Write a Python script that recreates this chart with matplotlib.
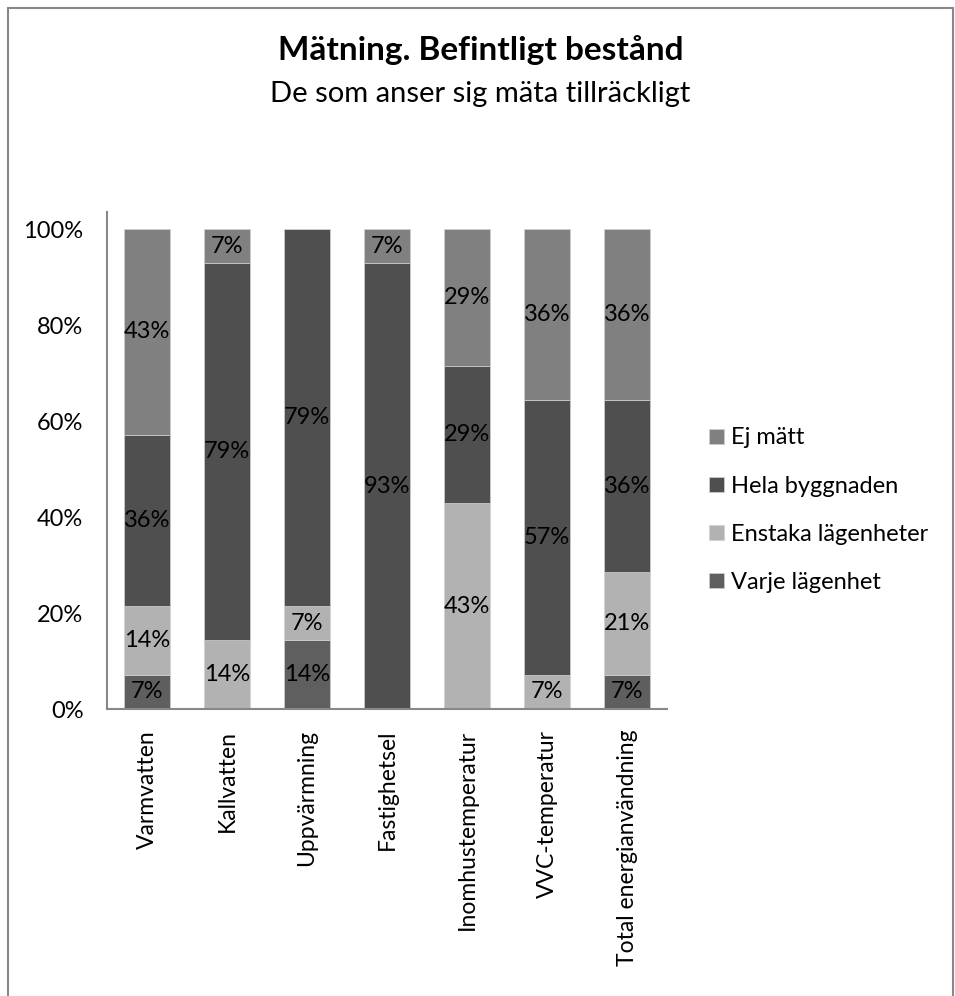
import numpy as np
import matplotlib
matplotlib.use('Agg')
import matplotlib.pyplot as plt
from matplotlib.patches import Rectangle
from matplotlib.ticker import FuncFormatter

plt.rcParams['font.family'] = ['Lato', 'DejaVu Sans']

categories = ['Varmvatten', 'Kallvatten', 'Uppvärmning', 'Fastighetsel',
              'Inomhustemperatur', 'VVC-temperatur', 'Total energianvändning']
series_names = ['Varje lägenhet', 'Enstaka lägenheter', 'Hela byggnaden', 'Ej mätt']
varje = [7.14, 0, 14.29, 0, 0, 0, 7.14]
enstaka = [14.29, 14.29, 7.14, 0, 42.86, 7.14, 21.43]
hela = [35.71, 78.57, 78.57, 92.86, 28.57, 57.14, 35.71]
ej = [42.86, 7.14, 0, 7.14, 28.57, 35.71, 35.71]
colors = ['#5f5f5f', '#b2b2b2', '#4f4f4f', '#808080']

fig = plt.figure(figsize=(9.55, 9.96), dpi=100)
ax = fig.add_axes([107 / 955, 1 - 709 / 996, 560 / 955, 497 / 996])

x = np.arange(len(categories))
bottom = np.zeros(len(categories))
bars = []
for name, vals, col in zip(series_names, [varje, enstaka, hela, ej], colors):
    vals = np.array(vals)
    b = ax.bar(x, vals, 0.575, bottom=bottom, color=col, label=name,
               edgecolor='#d0d0d0', linewidth=0.5)
    for xi, v, bt in zip(x, vals, bottom):
        if v > 0:
            ax.text(xi, bt + v / 2, f'{v:.0f}%', ha='center', va='center',
                    fontsize=17, color='black')
    bars.append(b)
    bottom += vals

ax.set_xlim(-0.5, len(categories) - 0.5)
ax.set_ylim(0, 100 * 497 / 480)
ax.set_yticks([0, 20, 40, 60, 80, 100])
ax.yaxis.set_major_formatter(FuncFormatter(lambda v, p: f'{v:.0f}%'))
ax.set_xticks(x)
ax.set_xticklabels(categories, rotation=90, va='top', ha='center')
ax.tick_params(axis='both', labelsize=17, colors='black', length=0)
ax.tick_params(axis='x', pad=15, labelsize=16.5)
ax.tick_params(axis='y', pad=17)
for s in ['top', 'right']:
    ax.spines[s].set_visible(False)
for s in ['left', 'bottom']:
    ax.spines[s].set_color('#888888')
    ax.spines[s].set_linewidth(1.5)

handles = bars[::-1]
fig.legend(handles, series_names[::-1], loc='upper left',
           bbox_to_anchor=(700 / 955, 1 - 418 / 996), frameon=False,
           fontsize=17, handlelength=0.6, handleheight=0.6,
           handletextpad=0.3, labelspacing=1.15, borderaxespad=0)

cx = 0.5 * (8 + 953) / 955
fig.text(cx, 1 - 50 / 996, 'Mätning. Befintligt bestånd',
         ha='center', va='center', fontsize=24, fontweight='bold')
fig.text(cx, 1 - 94 / 996, 'De som anser sig mäta tillräckligt',
         ha='center', va='center', fontsize=21)

fig.patches.append(Rectangle((8 / 955, -0.01), 945 / 955, 1 - 8 / 996 + 0.01,
                             transform=fig.transFigure, fill=False,
                             edgecolor='#888888', linewidth=1.5))

fig.savefig('out.png', dpi=100)
